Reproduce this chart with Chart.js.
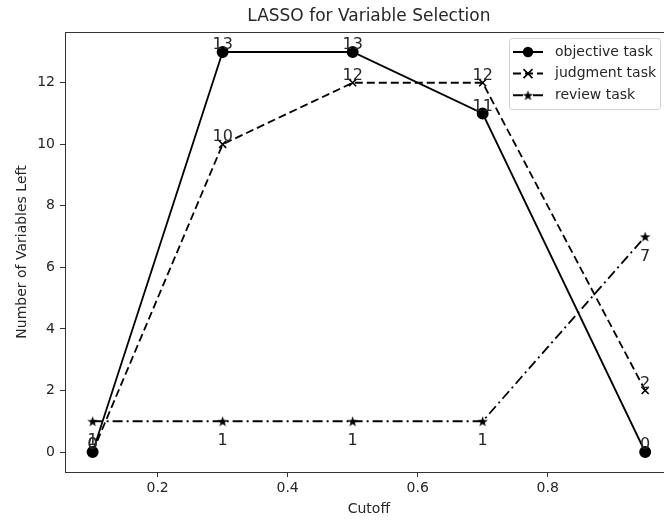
<!DOCTYPE html>
<html>
<head>
<meta charset="utf-8">
<script src="https://cdn.jsdelivr.net/npm/chart.js@4"></script>
<style>
  html, body { margin: 0; padding: 0; background: #fff; overflow: hidden; }
  #wrap { width: 700px; height: 520px; position: relative; }
</style>
</head>
<body>
<div id="wrap"><canvas id="chart"></canvas></div>
<script>
const cutoffs = [0.1, 0.3, 0.5, 0.7, 0.95];
const objectiveTask = [0, 13, 13, 11, 0];
const judgmentTask = [0, 10, 12, 12, 2];
const reviewTask = [1, 1, 1, 1, 7];
const xTicks = [0.2, 0.4, 0.6, 0.8];
const yTicks = [0, 2, 4, 6, 8, 10, 12];

const FONT = "'DejaVu Sans', sans-serif";
const INK = "#262626";
const LINE = "#000";

// filled five point star, matplotlib '*'
function makeStar(size) {
  const c = document.createElement("canvas");
  c.width = size; c.height = size;
  const g = c.getContext("2d");
  const cx = size / 2, cy = size / 2 + 0.6, R = size / 2, r = R * 0.4;
  g.beginPath();
  for (let i = 0; i < 10; i++) {
    const a = -Math.PI / 2 + i * Math.PI / 5;
    const rad = i % 2 ? r : R;
    g.lineTo(cx + rad * Math.cos(a), cy + rad * Math.sin(a));
  }
  g.closePath();
  g.fillStyle = LINE;
  g.fill();
  return c;
}
const STAR = makeStar(11);

const toPts = (ys) => ys.map((y, i) => ({ x: cutoffs[i], y }));

function drawMarker(ctx, style, x, y) {
  ctx.save();
  ctx.fillStyle = LINE;
  ctx.strokeStyle = LINE;
  ctx.lineWidth = 1.6;
  ctx.setLineDash([]);
  if (style === "circle") {
    ctx.beginPath();
    ctx.arc(x, y, 5.2, 0, Math.PI * 2);
    ctx.fill();
  } else if (style === "crossRot") {
    ctx.beginPath();
    ctx.moveTo(x - 4.5, y - 4.5); ctx.lineTo(x + 4.5, y + 4.5);
    ctx.moveTo(x + 4.5, y - 4.5); ctx.lineTo(x - 4.5, y + 4.5);
    ctx.stroke();
  } else {
    ctx.drawImage(STAR, x - STAR.width / 2, y - STAR.height / 2);
  }
  ctx.restore();
}

const valueLabels = {
  id: "valueLabels",
  afterDatasetsDraw(chart) {
    const ctx = chart.ctx;
    ctx.save();
    ctx.font = "16px " + FONT;
    ctx.fillStyle = INK;
    ctx.textAlign = "center";
    chart.data.datasets.forEach((ds, i) => {
      chart.getDatasetMeta(i).data.forEach((pt, j) => {
        const v = ds.data[j].y;
        if (ds.labelBelow) {
          ctx.textBaseline = "top";
          ctx.fillText(String(v), pt.x, pt.y + 12);
        } else {
          ctx.textBaseline = "bottom";
          ctx.fillText(String(v), pt.x, pt.y + 1);
        }
      });
    });
    ctx.restore();
  },
};

const frameAndLegend = {
  id: "frameAndLegend",
  afterDraw(chart) {
    const { ctx, chartArea: a } = chart;
    ctx.save();
    ctx.strokeStyle = "#333";
    ctx.lineWidth = 1;
    ctx.strokeRect(Math.round(a.left) + 0.5, Math.round(a.top) + 0.5,
      Math.round(a.right - a.left), Math.round(a.bottom - a.top));

    // legend box, top right
    const bx = 509.5, by = 38.5, bw = 151, bh = 71;
    ctx.beginPath();
    ctx.roundRect(bx, by, bw, bh, 3);
    ctx.fillStyle = "rgba(255,255,255,0.85)";
    ctx.fill();
    ctx.strokeStyle = "#d0d0d0";
    ctx.stroke();

    ctx.font = "14px " + FONT;
    ctx.textBaseline = "middle";
    ctx.textAlign = "left";
    chart.data.datasets.forEach((ds, i) => {
      const y = 52 + i * 21.6;
      ctx.strokeStyle = LINE;
      ctx.lineWidth = 2;
      ctx.setLineDash(ds.borderDash || []);
      ctx.beginPath();
      ctx.moveTo(513, y); ctx.lineTo(543, y);
      ctx.stroke();
      ctx.setLineDash([]);
      drawMarker(ctx, ds.markerName, 528, y);
      ctx.fillStyle = INK;
      ctx.fillText(ds.label, 555, y);
    });
    ctx.restore();
  },
};

const series = [
  { label: "objective task", ys: objectiveTask, dash: [], style: "circle", below: false },
  { label: "judgment task", ys: judgmentTask, dash: [8, 4], style: "crossRot", below: false },
  { label: "review task", ys: reviewTask, dash: [10, 4, 2, 4], style: "star", below: true },
];

const datasets = series.map((s) => ({
  label: s.label,
  data: toPts(s.ys),
  borderColor: LINE,
  backgroundColor: LINE,
  borderWidth: 1.8,
  borderDash: s.dash,
  pointStyle: s.style === "star" ? STAR : s.style,
  markerName: s.style,
  pointRadius: s.style === "circle" ? 5.2 : 5,
  pointBorderWidth: 1.6,
  pointBackgroundColor: LINE,
  pointBorderColor: LINE,
  labelBelow: s.below,
  tension: 0,
  fill: false,
}));

new Chart(document.getElementById("chart"), {
  type: "line",
  data: { datasets },
  options: {
    responsive: true,
    maintainAspectRatio: false,
    animation: false,
    layout: { padding: { left: 0, top: 0, right: 27.2, bottom: 0 } },
    plugins: {
      legend: { display: false },
      tooltip: { enabled: false },
      title: {
        display: true,
        fullSize: false,
        text: "LASSO for Variable Selection",
        color: INK,
        font: { family: FONT, size: 17, weight: "normal" },
        padding: { top: 6.5, bottom: 5.1 },
      },
    },
    scales: {
      x: {
        type: "linear",
        min: 0.0575,
        max: 0.9925,
        afterBuildTicks: (s) => { s.ticks = xTicks.map((v) => ({ value: v })); },
        afterFit: (s) => { s.height = 48; },
        border: { display: false },
        grid: { drawOnChartArea: false, drawTicks: true, tickLength: 5, tickColor: "#333" },
        ticks: {
          color: INK,
          padding: 2.6,
          maxRotation: 0,
          font: { family: FONT, size: 14 },
          callback: (v) => v.toFixed(1),
        },
        title: {
          display: true,
          text: "Cutoff",
          color: INK,
          font: { family: FONT, size: 14 },
          padding: { top: 0, bottom: 2.6 },
        },
      },
      y: {
        min: -0.65,
        max: 13.65,
        afterBuildTicks: (s) => { s.ticks = yTicks.map((v) => ({ value: v })); },
        afterFit: (s) => { s.width = 65; },
        border: { display: false },
        grid: { drawOnChartArea: false, drawTicks: true, tickLength: 5, tickColor: "#333" },
        ticks: {
          color: INK,
          padding: 5,
          font: { family: FONT, size: 14 },
          callback: (v) => String(v),
        },
        title: {
          display: true,
          text: "Number of Variables Left",
          color: INK,
          font: { family: FONT, size: 14 },
          padding: { top: 13.6, bottom: 0 },
        },
      },
    },
  },
  plugins: [valueLabels, frameAndLegend],
});
</script>
</body>
</html>
